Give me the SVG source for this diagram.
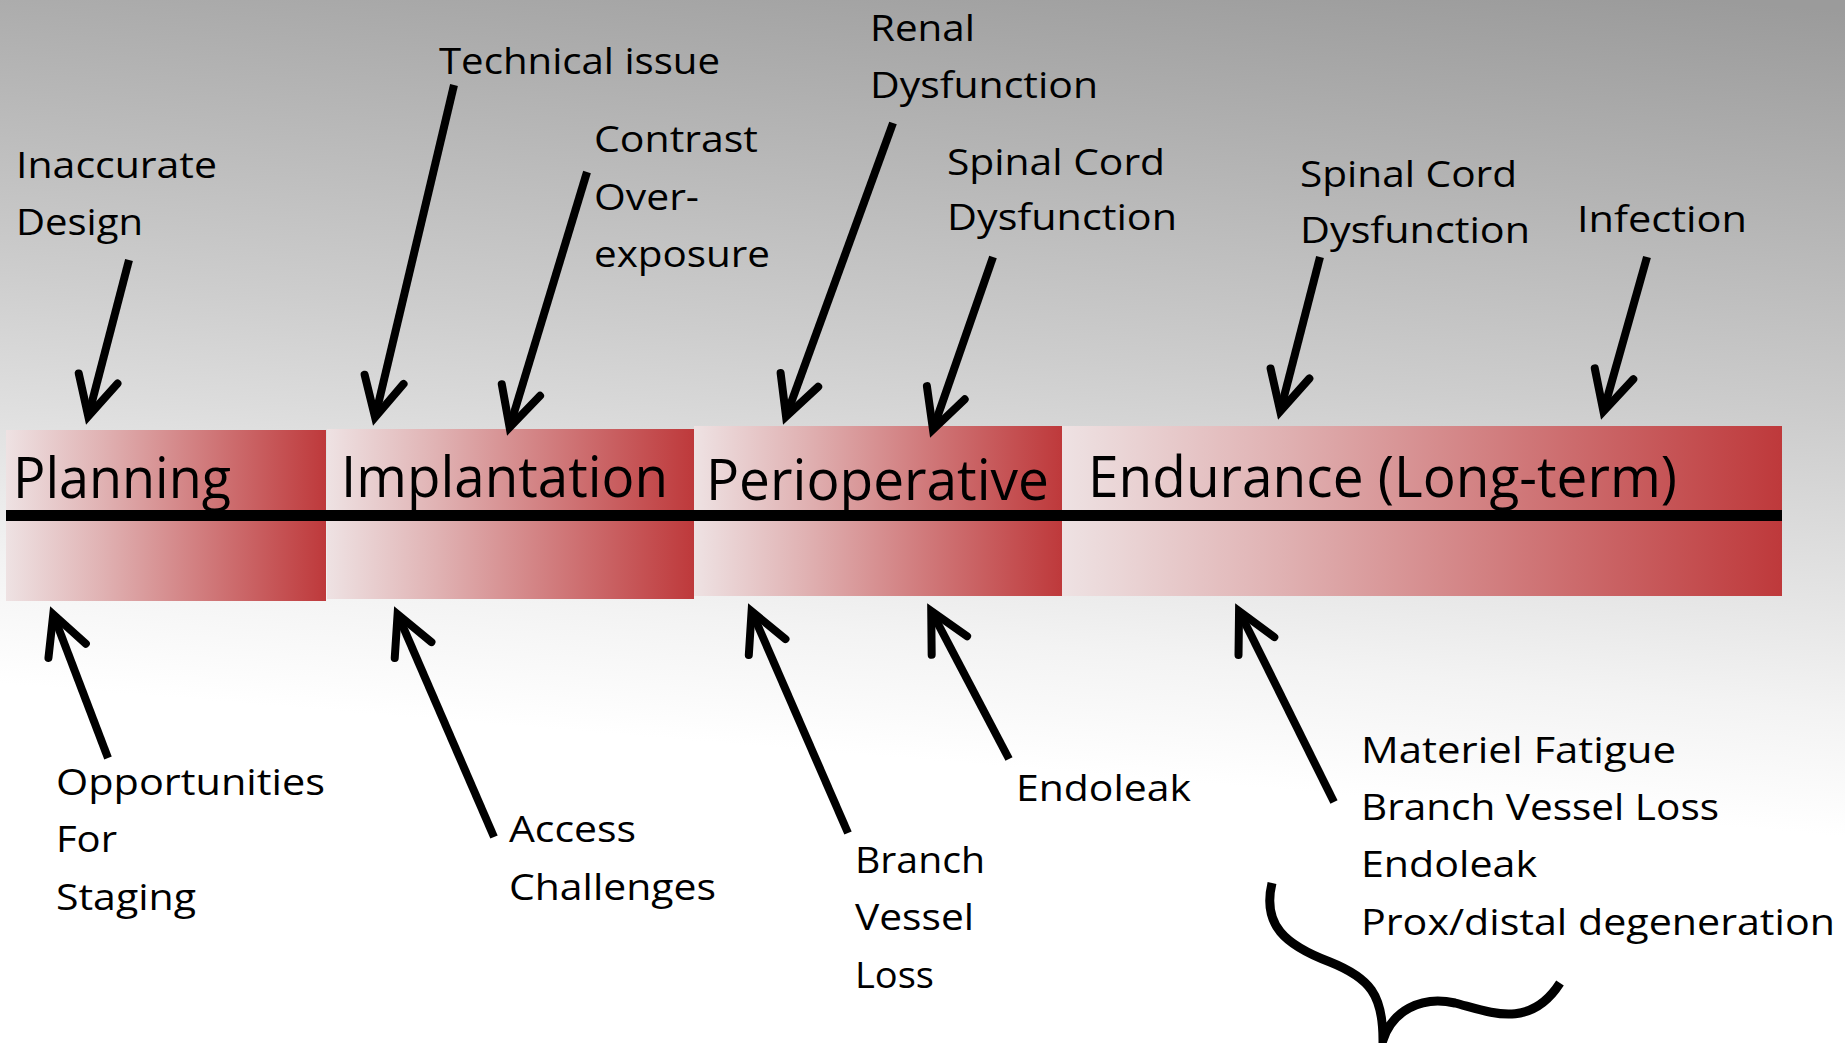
<svg xmlns="http://www.w3.org/2000/svg" width="1845" height="1043" viewBox="0 0 1845 1043">
  <defs>
    <linearGradient id="bg" gradientUnits="userSpaceOnUse" x1="922" y1="760" x2="990" y2="-60">
      <stop offset="0" stop-color="#ffffff"/>
      <stop offset="0.15" stop-color="#f3f3f3"/>
      <stop offset="0.5" stop-color="#cdcdcd"/>
      <stop offset="1" stop-color="#9b9b9b"/>
    </linearGradient>
    <linearGradient id="bar" x1="0" y1="0" x2="1" y2="0">
      <stop offset="0" stop-color="#eee2e3"/>
      <stop offset="0.3" stop-color="#e0b2b3"/>
      <stop offset="1" stop-color="#be393b"/>
    </linearGradient>
    <marker id="head" markerUnits="userSpaceOnUse" markerWidth="80" markerHeight="80" viewBox="-60 -30 80 60" refX="0" refY="0" orient="auto" overflow="visible">
      <path d="M-38,-20 L1,0 L-38,20" fill="none" stroke="#000" stroke-width="8" stroke-linecap="round" stroke-linejoin="miter" stroke-miterlimit="10"/>
    </marker>
    <style>
      .lbl { font-family: "Open Sans", "Liberation Sans", sans-serif; font-size: 37px; fill: #000; }
      .phase { font-family: "Open Sans", "Liberation Sans", sans-serif; font-size: 57px; fill: #000; }
      .bar { fill: url(#bar); }
      .arr { fill: none; stroke: #000; stroke-width: 8; stroke-linecap: butt; marker-end: url(#head); }
    </style>
  </defs>

  <rect x="0" y="0" width="1845" height="1043" fill="url(#bg)"/>

  <g id="phase-planning">
    <rect class="bar" x="6" y="430" width="320" height="171"/>
    <text class="phase" x="13" y="498" textLength="218" lengthAdjust="spacingAndGlyphs">Planning</text>
  </g>
  <g id="phase-implantation">
    <rect class="bar" x="327" y="429" width="367" height="170"/>
    <text class="phase" x="341" y="497" textLength="327" lengthAdjust="spacingAndGlyphs">Implantation</text>
  </g>
  <g id="phase-perioperative">
    <rect class="bar" x="694" y="426" width="368" height="170"/>
    <text class="phase" x="706" y="500" textLength="343" lengthAdjust="spacingAndGlyphs">Perioperative</text>
  </g>
  <g id="phase-endurance">
    <rect class="bar" x="1062" y="426" width="720" height="170"/>
    <text class="phase" x="1088" y="497" textLength="589" lengthAdjust="spacingAndGlyphs">Endurance (Long-term)</text>
  </g>
  <g id="timeline">
    <rect x="6" y="510" width="1776" height="11" fill="#000"/>
  </g>

  <g id="lbl-inaccurate-design">
    <text class="lbl" x="16" y="178" textLength="201" lengthAdjust="spacingAndGlyphs">Inaccurate</text>
    <text class="lbl" x="16" y="235" textLength="127" lengthAdjust="spacingAndGlyphs">Design</text>
  </g>
  <g id="lbl-technical-issue">
    <text class="lbl" x="439" y="74" textLength="281" lengthAdjust="spacingAndGlyphs">Technical issue</text>
  </g>
  <g id="lbl-contrast">
    <text class="lbl" x="594" y="152" textLength="164" lengthAdjust="spacingAndGlyphs">Contrast</text>
    <text class="lbl" x="594" y="210" textLength="105" lengthAdjust="spacingAndGlyphs">Over-</text>
    <text class="lbl" x="594" y="267" textLength="176" lengthAdjust="spacingAndGlyphs">exposure</text>
  </g>
  <g id="lbl-renal">
    <text class="lbl" x="870" y="41" textLength="105" lengthAdjust="spacingAndGlyphs">Renal</text>
    <text class="lbl" x="870" y="98" textLength="228" lengthAdjust="spacingAndGlyphs">Dysfunction</text>
  </g>
  <g id="lbl-spinal-1">
    <text class="lbl" x="947" y="175" textLength="218" lengthAdjust="spacingAndGlyphs">Spinal Cord</text>
    <text class="lbl" x="947" y="230" textLength="230" lengthAdjust="spacingAndGlyphs">Dysfunction</text>
  </g>
  <g id="lbl-spinal-2">
    <text class="lbl" x="1300" y="187" textLength="217" lengthAdjust="spacingAndGlyphs">Spinal Cord</text>
    <text class="lbl" x="1300" y="243" textLength="230" lengthAdjust="spacingAndGlyphs">Dysfunction</text>
  </g>
  <g id="lbl-infection">
    <text class="lbl" x="1577" y="232" textLength="170" lengthAdjust="spacingAndGlyphs">Infection</text>
  </g>
  <g id="lbl-opportunities">
    <text class="lbl" x="56" y="795" textLength="269" lengthAdjust="spacingAndGlyphs">Opportunities</text>
    <text class="lbl" x="56" y="852" textLength="61" lengthAdjust="spacingAndGlyphs">For</text>
    <text class="lbl" x="56" y="910" textLength="140" lengthAdjust="spacingAndGlyphs">Staging</text>
  </g>
  <g id="lbl-access">
    <text class="lbl" x="509" y="842" textLength="127" lengthAdjust="spacingAndGlyphs">Access</text>
    <text class="lbl" x="509" y="900" textLength="207" lengthAdjust="spacingAndGlyphs">Challenges</text>
  </g>
  <g id="lbl-branch">
    <text class="lbl" x="855" y="873" textLength="130" lengthAdjust="spacingAndGlyphs">Branch</text>
    <text class="lbl" x="855" y="930" textLength="119" lengthAdjust="spacingAndGlyphs">Vessel</text>
    <text class="lbl" x="855" y="988" textLength="79" lengthAdjust="spacingAndGlyphs">Loss</text>
  </g>
  <g id="lbl-endoleak">
    <text class="lbl" x="1016" y="801" textLength="175" lengthAdjust="spacingAndGlyphs">Endoleak</text>
  </g>
  <g id="lbl-longterm">
    <text class="lbl" x="1361" y="763" textLength="315" lengthAdjust="spacingAndGlyphs">Materiel Fatigue</text>
    <text class="lbl" x="1361" y="820" textLength="358" lengthAdjust="spacingAndGlyphs">Branch Vessel Loss</text>
    <text class="lbl" x="1361" y="877" textLength="176" lengthAdjust="spacingAndGlyphs">Endoleak</text>
    <text class="lbl" x="1361" y="935" textLength="474" lengthAdjust="spacingAndGlyphs">Prox/distal degeneration</text>
  </g>

  <g id="connectors">
    <path class="arr" d="M129,260 L88.5,415.3"/>
    <path class="arr" d="M454,85 L375.3,416.3"/>
    <path class="arr" d="M587,172 L509.9,426.4"/>
    <path class="arr" d="M893,123 L786.4,415.6"/>
    <path class="arr" d="M993,257 L933.3,428.6"/>
    <path class="arr" d="M1320,257 L1280.5,410.3"/>
    <path class="arr" d="M1647,257 L1603.7,410.4"/>
    <path class="arr" d="M108,758 L53.6,615.3"/>
    <path class="arr" d="M494,837 L398,615.2"/>
    <path class="arr" d="M848,833 L752,612.2"/>
    <path class="arr" d="M1009,759 L931.7,611.9"/>
    <path class="arr" d="M1334,802 L1239.5,612"/>
    <path d="M1272,883 C1262,925 1285,945 1330,962 C1370,978 1383,995 1383,1040 C1392,1012 1420,995 1455,1003 C1490,1012 1530,1030 1560,983" fill="none" stroke="#000" stroke-width="9" stroke-linejoin="miter" stroke-miterlimit="20"/>
  </g>
</svg>
